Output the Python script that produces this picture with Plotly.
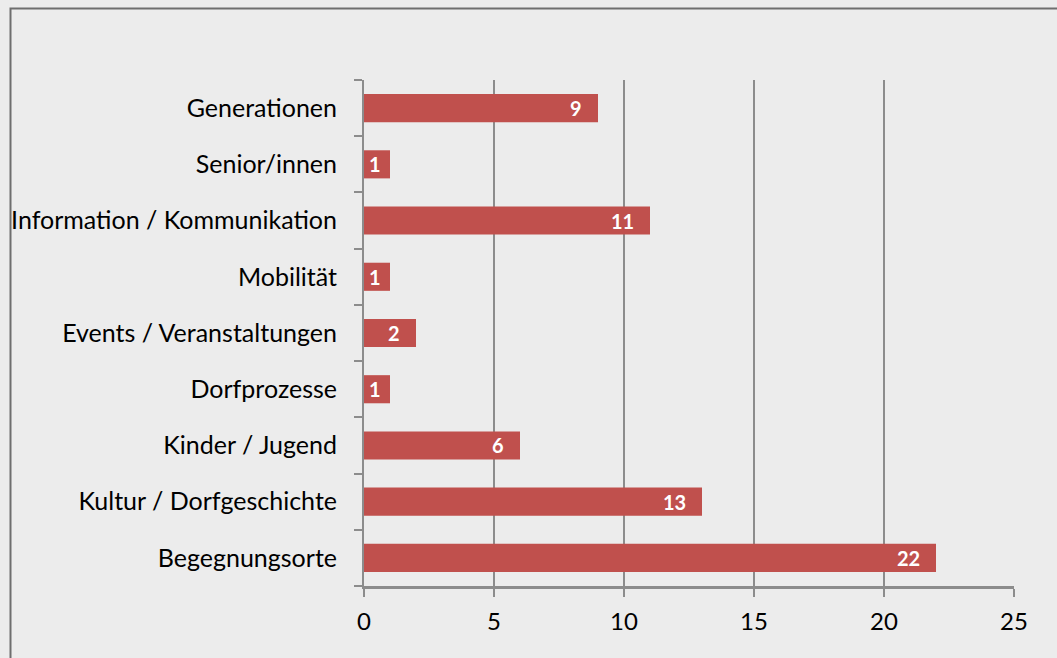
import plotly.graph_objects as go

categories = ["Begegnungsorte", "Kultur / Dorfgeschichte", "Kinder / Jugend", "Dorfprozesse",
              "Events / Veranstaltungen", "Mobilität", "Information / Kommunikation",
              "Senior/innen", "Generationen"]
values = [22, 13, 6, 1, 2, 1, 11, 1, 9]
x_ticks = [0, 5, 10, 15, 20, 25]

W, H = 1057, 658
L, R, T, B = 364, 43, 80, 72
pw, ph = W - L - R, H - T - B
px_per_unit = pw / 25

fig = go.Figure()
fig.add_trace(go.Bar(
    x=values, y=categories, orientation="h",
    marker=dict(color="#C0504D", line=dict(width=0)),
    hoverinfo="skip",
))

for v, c in zip(values, categories):
    shift = -14 if v * px_per_unit > 40 else -7
    fig.add_annotation(x=v, y=c, text=f"<b>{v}</b>", showarrow=False,
                       xanchor="right", xshift=shift,
                       font=dict(family="Lato", size=20, color="white"))

# outer frame (extends beyond right/bottom edges as in reference)
fig.add_shape(type="rect", xref="paper", yref="paper",
              x0=(10.5 - L) / pw, x1=(W + 20 - L) / pw,
              y0=-(B + 20) / ph, y1=(H - B - 8.5) / ph,
              line=dict(color="#6E6E6E", width=2), layer="below")

fig.update_layout(
    width=W, height=H,
    margin=dict(l=L, r=R, t=T, b=B, pad=0),
    paper_bgcolor="#ECECEC", plot_bgcolor="#ECECEC",
    bargap=0.5, showlegend=False,
    font=dict(family="Lato", size=25, color="black"),
)
fig.update_xaxes(range=[0, 25], tickvals=x_ticks, showgrid=True, gridcolor="#8C8C8C", gridwidth=2,
                 showline=True, linecolor="#8C8C8C", linewidth=3,
                 ticks="outside", ticklen=8, tickwidth=2, tickcolor="#8C8C8C",
                 zeroline=False, tickfont=dict(size=24), ticklabelstandoff=4, fixedrange=True)
fig.update_yaxes(categoryorder="array", categoryarray=categories, showgrid=False,
                 showline=True, linecolor="#8C8C8C", linewidth=2,
                 ticks="outside", ticklen=8, tickwidth=2, tickcolor="#8C8C8C",
                 tickson="boundaries", tickfont=dict(size=25), ticklabelstandoff=20, fixedrange=True)

fig.write_html("out.html", config={"displayModeBar": False},
               post_script="document.body.style.margin='0';document.body.style.background='#ECECEC';")
